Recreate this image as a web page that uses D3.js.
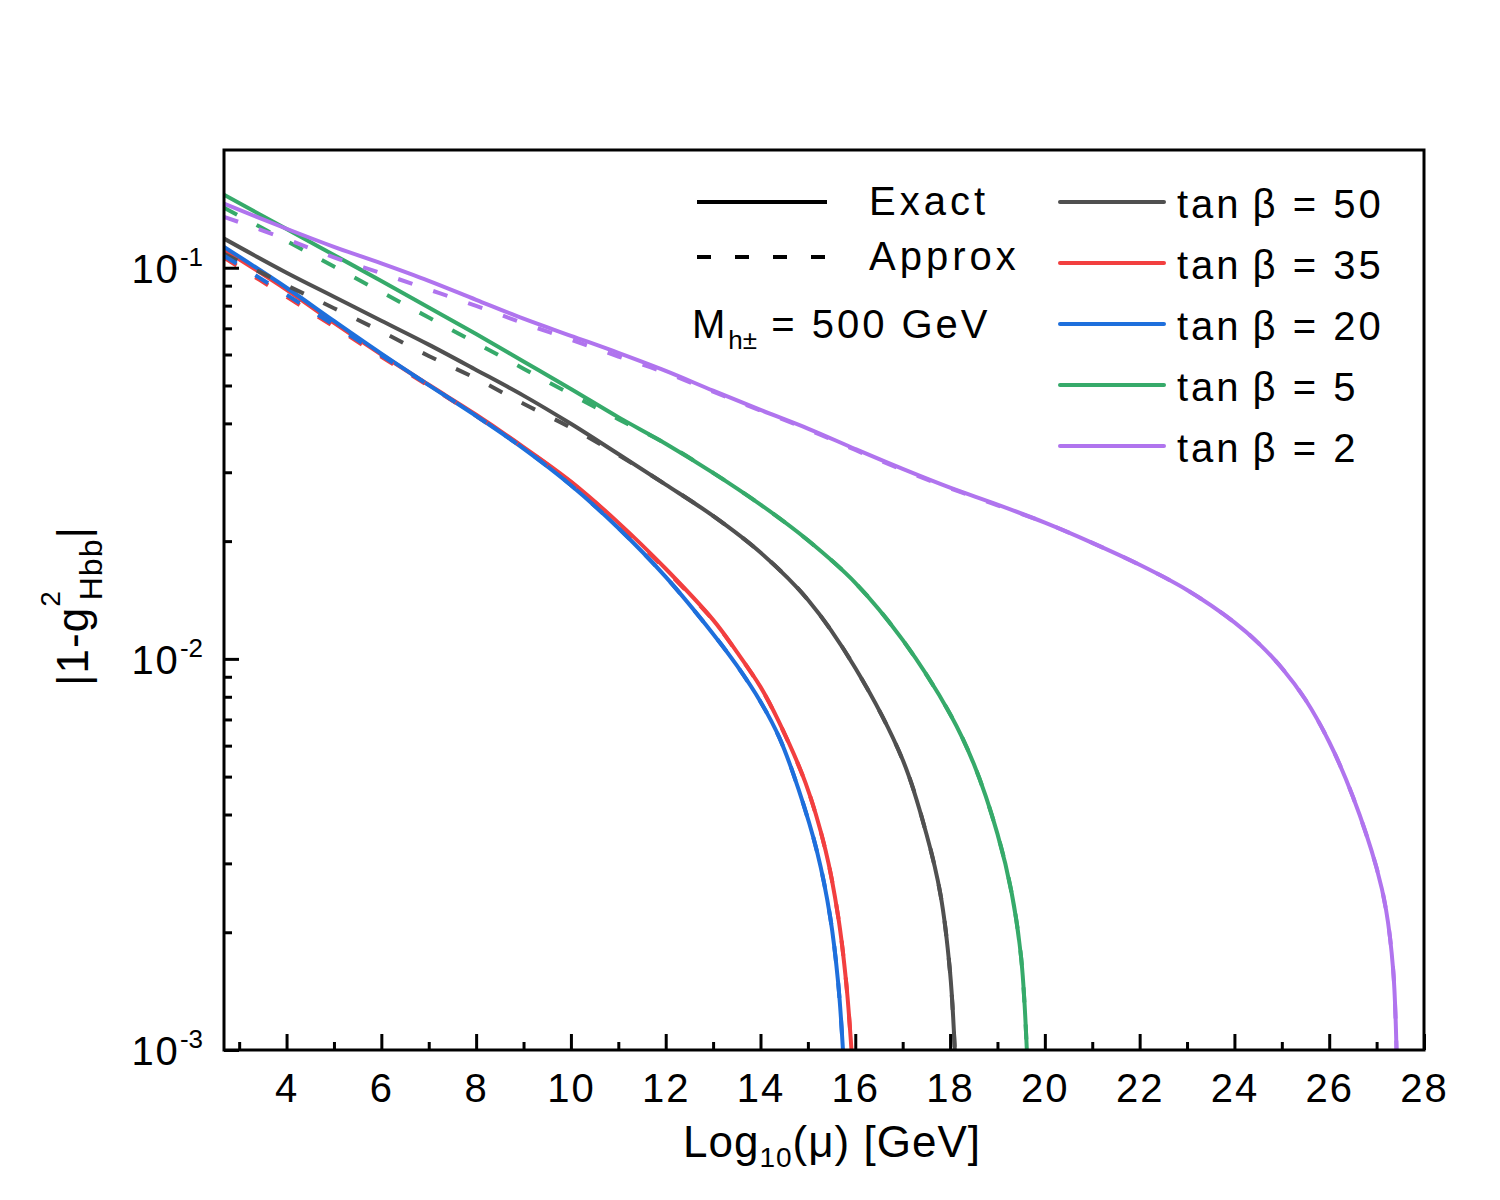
<!DOCTYPE html>
<html>
<head>
<meta charset="utf-8">
<script src="https://cdn.jsdelivr.net/npm/d3@7"></script>
<style>
  html, body { margin: 0; padding: 0; background: #fff; }
  svg text { font-family: "Liberation Sans", Arial, Helvetica, sans-serif; fill: #000; }
</style>
</head>
<body>
<svg id="chart"></svg>
<script>
// log10(mu) values and |1 - g^2|, one block per tan(beta)
const x50 = [2.68, 4, 5, 6, 7, 8, 9, 10, 11, 12, 13, 14, 15, 16, 17, 17.5, 17.8, 18, 18.1];
const exact50 = [0.1187, 0.0971, 0.0843, 0.0732, 0.0636, 0.0548, 0.0471, 0.0399, 0.0334, 0.0279, 0.0232, 0.0187, 0.01416, 0.00948, 0.00552, 0.00357, 0.00249, 0.00158, 0.001];
const approx50 = [0.1086, 0.0902, 0.0788, 0.0687, 0.0595, 0.0521, 0.0449, 0.0390, 0.0332, 0.0279, 0.0232, 0.0187, 0.01416, 0.00948, 0.00552, 0.00357, 0.00249, 0.00158, 0.001];

const x35 = [2.68, 4, 5, 6, 7, 8, 9, 10, 11, 12, 13, 13.5, 14, 14.38, 14.95, 15.37, 15.64, 15.81, 15.92];
const exact35 = [0.1112, 0.0878, 0.0723, 0.0600, 0.0502, 0.0421, 0.0348, 0.0284, 0.0223, 0.0170, 0.01258, 0.01042, 0.00848, 0.00694, 0.00482, 0.00325, 0.00219, 0.00148, 0.001];
const approx35 = [0.1061, 0.0843, 0.0707, 0.0592, 0.0499, 0.0418, 0.0347, 0.0283, 0.0222, 0.0169, 0.01255, 0.0104, 0.00846, 0.00693, 0.00481, 0.00325, 0.00219, 0.00148, 0.001];

const x20 = [2.68, 4, 5, 6, 7, 8, 9, 10, 11, 12, 13, 13.5, 14, 14.4, 14.8, 15.2, 15.47, 15.64, 15.74];
const exact20 = [0.1131, 0.0889, 0.0731, 0.0603, 0.0501, 0.0418, 0.0345, 0.0278, 0.0216, 0.0162, 0.01158, 0.00962, 0.00777, 0.00628, 0.00465, 0.00319, 0.00219, 0.00148, 0.001];
const approx20 = [0.1073, 0.0853, 0.0714, 0.0597, 0.0501, 0.0418, 0.0345, 0.0278, 0.0216, 0.0162, 0.01158, 0.00962, 0.00777, 0.00628, 0.00465, 0.00319, 0.00219, 0.00148, 0.001];

const x5 = [2.68, 4, 5, 6, 7, 8, 9, 10, 11, 12, 13, 14, 15, 16, 17, 18, 18.5, 19, 19.3, 19.5, 19.62];
const exact5 = [0.1537, 0.1256, 0.1078, 0.0925, 0.0791, 0.0677, 0.0576, 0.0490, 0.0415, 0.0355, 0.0299, 0.0248, 0.0201, 0.01565, 0.01118, 0.00723, 0.00539, 0.00357, 0.00252, 0.00172, 0.001];
const approx5 = [0.1424, 0.1170, 0.1007, 0.0867, 0.0746, 0.0642, 0.0552, 0.0475, 0.0410, 0.0355, 0.0299, 0.0248, 0.0201, 0.01565, 0.01118, 0.00723, 0.00539, 0.00357, 0.00252, 0.00172, 0.001];

const x2 = [2.68, 4, 5, 6, 7, 8, 9, 10, 11, 12, 13, 14, 15, 16, 17, 18, 19, 20, 21, 22, 23, 24, 24.5, 25, 25.5, 26, 26.5, 27, 27.2, 27.35, 27.42];
const exact2 = [0.1458, 0.1258, 0.1131, 0.1026, 0.0926, 0.0828, 0.0741, 0.0670, 0.0606, 0.0545, 0.0485, 0.0433, 0.0388, 0.0344, 0.0306, 0.0274, 0.0248, 0.0223, 0.0198, 0.0174, 0.0150, 0.0124, 0.01099, 0.00948, 0.00786, 0.00613, 0.00444, 0.00292, 0.00228, 0.0016, 0.001];
const approx2 = [0.1350, 0.1183, 0.1063, 0.0968, 0.0880, 0.0799, 0.0721, 0.0655, 0.0593, 0.0539, 0.0482, 0.0431, 0.0386, 0.0342, 0.0304, 0.0273, 0.0247, 0.0223, 0.0198, 0.0174, 0.0150, 0.0124, 0.01099, 0.00948, 0.00786, 0.00613, 0.00444, 0.00292, 0.00228, 0.0016, 0.001];

const tanBetaLabels = ['50', '35', '20', '5', '2'];
const xMajorTicks = [4, 6, 8, 10, 12, 14, 16, 18, 20, 22, 24, 26, 28];
const xMinorTicks = [3, 5, 7, 9, 11, 13, 15, 17, 19, 21, 23, 25, 27];
const yMajorTicks = [1e-3, 1e-2, 1e-1];
const yTickExponents = ['-3', '-2', '-1'];

const series = [
    { x: x50, exact: exact50, approx: approx50, color: '#505050' },
    { x: x35, exact: exact35, approx: approx35, color: '#f23f3f' },
    { x: x20, exact: exact20, approx: approx20, color: '#1e6fdc' },
    { x: x5, exact: exact5, approx: approx5, color: '#36aa6a' },
    { x: x2, exact: exact2, approx: approx2, color: '#b074ee' }
];

const W = 1500, H = 1200;
const plot = { left: 224, right: 1424, top: 150, bottom: 1050 };

const svg = d3.select('#chart').attr('width', W).attr('height', H);
svg.append('rect').attr('width', W).attr('height', H).attr('fill', '#fff');

const xScale = d3.scaleLinear().domain([2.68, 28]).range([plot.left, plot.right]);
const yScale = d3.scaleLog().domain([1e-3, 0.2]).range([plot.bottom, plot.top]);

svg.append('clipPath').attr('id', 'clip')
    .append('rect')
    .attr('x', plot.left).attr('y', plot.top)
    .attr('width', plot.right - plot.left).attr('height', plot.bottom - plot.top);

const line = d3.line()
    .x(d => xScale(d[0]))
    .y(d => yScale(d[1]))
    .curve(d3.curveCatmullRom.alpha(0.5));

const curves = svg.append('g').attr('clip-path', 'url(#clip)');

// Exact (solid) first, approximations dashed on top
series.forEach(s => {
    curves.append('path')
        .attr('d', line(s.x.map((v, i) => [v, s.exact[i]])))
        .attr('fill', 'none')
        .attr('stroke', s.color)
        .attr('stroke-width', 4);
});
series.forEach(s => {
    curves.append('path')
        .attr('d', line(s.x.map((v, i) => [v, s.approx[i]])))
        .attr('fill', 'none')
        .attr('stroke', s.color)
        .attr('stroke-width', 4)
        .attr('stroke-dasharray', '15,22');
});

// X axis ticks (inward)
const xMajor = svg.append('g')
    .attr('transform', `translate(0,${plot.bottom})`)
    .call(d3.axisBottom(xScale).tickValues(xMajorTicks).tickSize(-16).tickSizeOuter(0).tickPadding(24));
const xMinor = svg.append('g')
    .attr('transform', `translate(0,${plot.bottom})`)
    .call(d3.axisBottom(xScale).tickValues(xMinorTicks).tickSize(-8).tickSizeOuter(0).tickFormat(''));

// Y axis ticks (inward)
const yMinorTicks = [];
[1e-3, 1e-2, 1e-1].forEach(d => d3.range(2, 10).forEach(m => {
    if (d * m < 0.2) yMinorTicks.push(d * m);
}));
const yMajor = svg.append('g')
    .attr('transform', `translate(${plot.left},0)`)
    .call(d3.axisLeft(yScale).tickValues(yMajorTicks).tickSize(-15).tickSizeOuter(0).tickFormat(''));
const yMinor = svg.append('g')
    .attr('transform', `translate(${plot.left},0)`)
    .call(d3.axisLeft(yScale).tickValues(yMinorTicks).tickSize(-8).tickSizeOuter(0).tickFormat(''));

[xMajor, xMinor, yMajor, yMinor].forEach(g => {
    g.select('.domain').remove();
    g.selectAll('line').attr('stroke', '#000').attr('stroke-width', 3);
});
xMajor.selectAll('text')
    .attr('font-size', 40)
    .attr('letter-spacing', '2px')
    .attr('fill', '#000')
    .style('font-family', '"Liberation Sans", Arial, sans-serif');

// Y tick labels as 10^n
yMajorTicks.forEach((v, i) => {
    const t = svg.append('text')
        .attr('x', 203)
        .attr('y', yScale(v) + 15)
        .attr('text-anchor', 'end')
        .attr('font-size', 40)
        .attr('letter-spacing', '2px');
    t.append('tspan').text('10');
    t.append('tspan').attr('dy', -17).attr('font-size', 26).attr('letter-spacing', '0px').text(yTickExponents[i]);
});

// Frame
svg.append('rect')
    .attr('x', plot.left).attr('y', plot.top)
    .attr('width', plot.right - plot.left).attr('height', plot.bottom - plot.top)
    .attr('fill', 'none')
    .attr('stroke', '#000')
    .attr('stroke-width', 3);

// Axis titles
const xt = svg.append('text')
    .attr('x', 832).attr('y', 1157)
    .attr('text-anchor', 'middle')
    .attr('font-size', 44)
    .attr('letter-spacing', '1px');
xt.append('tspan').text('Log');
xt.append('tspan').attr('dy', 10).attr('font-size', 28).text('10');
xt.append('tspan').attr('dy', -10).text('(\u03bc) [GeV]');

const yt = svg.append('text')
    .attr('transform', 'translate(88,606) rotate(-90)')
    .attr('text-anchor', 'middle')
    .attr('font-size', 44)
    .attr('letter-spacing', '1px');
yt.append('tspan').text('|1-g');
yt.append('tspan').attr('dy', -28).attr('font-size', 28).text('2');
yt.append('tspan').attr('dy', 42).attr('dx', -10).attr('font-size', 32).text('Hbb');
yt.append('tspan').attr('dy', -14).text('|');

// Line-style legend
const legend = svg.append('g');
legend.append('line')
    .attr('x1', 697).attr('x2', 827).attr('y1', 202).attr('y2', 202)
    .attr('stroke', '#000').attr('stroke-width', 4);
legend.append('line')
    .attr('x1', 697).attr('x2', 827).attr('y1', 257).attr('y2', 257)
    .attr('stroke', '#000').attr('stroke-width', 4).attr('stroke-dasharray', '14,24');
legend.append('text').attr('x', 869).attr('y', 215).attr('font-size', 40).attr('letter-spacing', '4px').text('Exact');
legend.append('text').attr('x', 869).attr('y', 270).attr('font-size', 40).attr('letter-spacing', '4px').text('Approx');

const mh = legend.append('text').attr('x', 692).attr('y', 338).attr('font-size', 40).attr('letter-spacing', '3px');
mh.append('tspan').text('M');
mh.append('tspan').attr('dy', 11).attr('font-size', 26).attr('letter-spacing', '0px').text('h\u00b1');
mh.append('tspan').attr('dy', -11).text(' = 500 GeV');

// tan(beta) legend
series.forEach((s, i) => {
    const yy = 202 + i * 61;
    legend.append('line')
        .attr('x1', 1060).attr('x2', 1164).attr('y1', yy).attr('y2', yy)
        .attr('stroke', s.color).attr('stroke-width', 4).attr('stroke-linecap', 'round');
    legend.append('text')
        .attr('x', 1177).attr('y', yy + 16)
        .attr('font-size', 40)
        .attr('letter-spacing', '3px')
        .text('tan\u2009\u03b2 = ' + tanBetaLabels[i]);
});
</script>
</body>
</html>
